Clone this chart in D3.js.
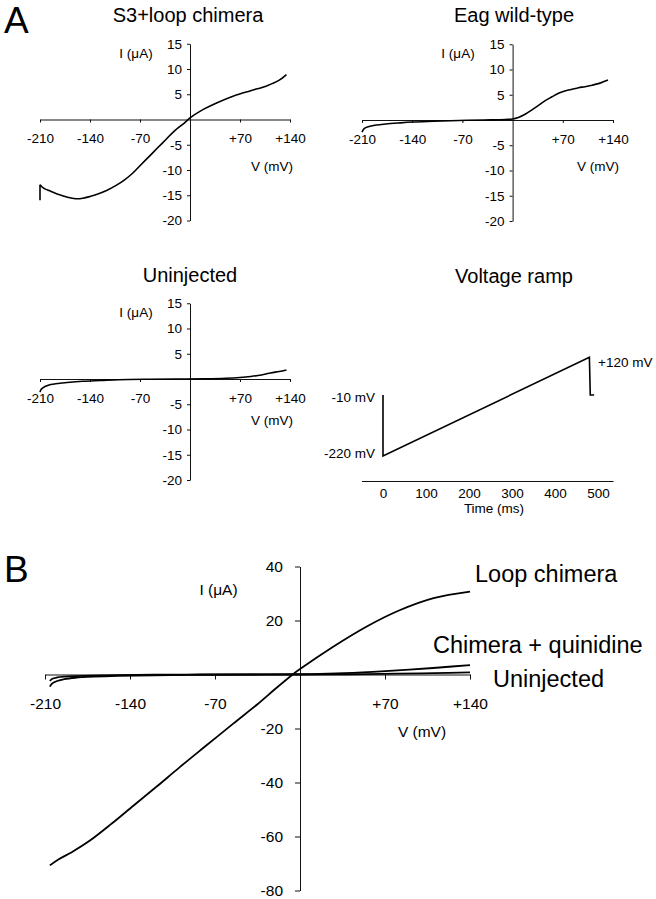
<!DOCTYPE html>
<html><head><meta charset="utf-8">
<script src="https://cdn.jsdelivr.net/npm/d3@7"></script>
<style>
body{margin:0;background:#fff}
svg{display:block;font-family:"Liberation Sans",Arial,Helvetica,sans-serif}
</style>
</head><body>
<svg id="chart" width="656" height="899"></svg>
<script>
// ---------------- data ----------------
const vTicks = [-210, -140, -70, 70, 140];
const iTicksA = [-20, -15, -10, -5, 5, 10, 15];
const iTicksB = [-80, -60, -40, -20, 20, 40];
const timeTicks = [0, 100, 200, 300, 400, 500];

// A: S3+loop chimera (first two points = transient at -210 mV)
const s3LoopV = [-210, -210, -205, -195, -185, -176, -168, -160, -150, -139, -128, -116, -104, -92, -80, -69, -57, -46, -34, -22, -8, 0, 15, 38, 62, 85, 108, 125, 135];
const s3LoopI = [-16, -12.9, -13.6, -14.2, -14.8, -15.2, -15.5, -15.7, -15.6, -15.2, -14.7, -14.0, -13.1, -12.0, -10.6, -9.0, -7.3, -5.7, -4.0, -2.3, -0.7, 0.3, 1.7, 3.3, 4.7, 5.7, 6.7, 7.8, 8.9];

// A: Eag wild-type
const eagV = [-210, -207, -200, -190, -177, -160, -140, -110, -75, -40, -10, 0, 8, 18, 27, 36, 45, 55, 64, 74, 83, 92, 101, 111, 122, 133];
const eagI = [-2.4, -1.7, -1.3, -1.0, -0.8, -0.6, -0.4, -0.25, -0.1, 0, 0.1, 0.2, 0.5, 1.2, 2.0, 2.9, 3.8, 4.6, 5.3, 5.8, 6.1, 6.4, 6.6, 6.9, 7.3, 7.9];

// A: Uninjected
const uninjAV = [-210, -208, -203, -195, -185, -172, -150, -125, -100, -60, -20, 20, 50, 70, 85, 100, 113, 125, 135];
const uninjAI = [-2.6, -2.0, -1.5, -1.1, -0.9, -0.7, -0.45, -0.3, -0.15, -0.05, 0, 0.05, 0.15, 0.3, 0.5, 0.8, 1.2, 1.5, 1.8];

// A: Voltage ramp
const rampT = [0, 0, 480, 482, 491];
const rampV = [-10, -220, 120, -10, -10];

// B
const loopBV = [-206, -199, -188, -173, -155, -137, -118, -99, -78, -55, -35, -20, -6, 0, 27, 55, 82, 110, 140];
const loopBI = [-70.7, -68.5, -65.8, -61.5, -55.2, -48.5, -41.5, -34.3, -26.6, -18.2, -11.0, -5.2, 0, 2.0, 10.2, 17.8, 23.8, 28.3, 30.7];
const quinBV = [-206, -204, -200, -194, -185, -170, -150, -120, -80, -40, 0, 30, 60, 90, 115, 140];
const quinBI = [-4.5, -3.3, -2.4, -1.7, -1.2, -0.8, -0.5, -0.3, -0.1, 0, 0.1, 0.4, 1.0, 1.8, 2.6, 3.5];
const uninjBV = [-206, -204, -200, -194, -185, -170, -150, -120, -80, -40, 0, 40, 80, 110, 140];
const uninjBI = [-2.4, -1.6, -1.1, -0.8, -0.6, -0.4, -0.25, -0.1, 0, 0, 0, 0.1, 0.3, 0.5, 0.8];

// ---------------- drawing ----------------
const svg = d3.select("#chart");
const FONT = '"Liberation Sans",Arial,Helvetica,sans-serif';
const zip = (a, b) => a.map((v, i) => [v, b[i]]);
const vFmt = d => d > 0 ? "+" + d : String(d);

function text(x, y, s, size, anchor) {
  svg.append("text").attr("x", x).attr("y", y).attr("font-size", size)
    .attr("text-anchor", anchor || "middle").attr("fill", "#000").text(s);
}

function styleAxis(g, fs) {
  g.attr("font-family", FONT).attr("font-size", fs);
  g.selectAll("path,line").attr("stroke", "#111").attr("stroke-width", 1);
  g.selectAll("text").attr("fill", "#000");
}

function ivPanel(o) {
  const x = d3.scaleLinear([-210, 140], [o.x0, o.x1]);
  const y = d3.scaleLinear([o.iMin, o.iMax], [o.yZero - o.iMin * o.ppu, o.yZero - o.iMax * o.ppu]);
  const gx = svg.append("g").attr("transform", `translate(0,${y(0)})`)
    .call(d3.axisBottom(x).tickValues(vTicks).tickFormat(vFmt)
      .tickSize(o.tick).tickSizeOuter(0).tickPadding(o.xPad));
  styleAxis(gx, o.fs);
  const gy = svg.append("g").attr("transform", `translate(${x(0)},0)`)
    .call(d3.axisLeft(y).tickValues(o.iTicks).tickFormat(d => String(d))
      .tickSize(o.tick).tickSizeOuter(0).tickPadding(o.yPad));
  styleAxis(gy, o.fs);
  const smooth = d3.line().x(d => x(d[0])).y(d => y(d[1])).curve(d3.curveCatmullRom.alpha(0.5));
  const straight = d3.line().x(d => x(d[0])).y(d => y(d[1]));
  o.series.forEach(s => {
    svg.append("path").attr("d", smooth(s)).attr("fill", "none")
      .attr("stroke", "#000").attr("stroke-width", o.lw).attr("stroke-linejoin", "round");
  });
  (o.straight || []).forEach(s => {
    svg.append("path").attr("d", straight(s)).attr("fill", "none")
      .attr("stroke", "#000").attr("stroke-width", o.lw);
  });
}

// Panel letters
text(4, 33, "A", 37, "start");
text(4, 582, "B", 37, "start");

// A top-left
const s3Pts = zip(s3LoopV, s3LoopI);
ivPanel({x0: 40, x1: 290, yZero: 119.5, ppu: 5.05, iMin: -20, iMax: 15, iTicks: iTicksA,
  tick: 3, xPad: 11, yPad: 5, fs: 13.5, lw: 1.6,
  series: [s3Pts.slice(1)], straight: [s3Pts.slice(0, 2)]});
text(188, 22, "S3+loop chimera", 20);
text(136, 58, "I (μA)", 13.5);
text(272, 171, "V (mV)", 13.5);

// A top-right
ivPanel({x0: 362, x1: 613, yZero: 120, ppu: 5.05, iMin: -20, iMax: 15, iTicks: iTicksA,
  tick: 3, xPad: 11, yPad: 5, fs: 13.5, lw: 1.6, series: [zip(eagV, eagI)]});
text(514, 22, "Eag wild-type", 20);
text(458, 58, "I (μA)", 13.5);
text(598, 171, "V (mV)", 13.5);

// A bottom-left
ivPanel({x0: 40, x1: 290, yZero: 379, ppu: 5.05, iMin: -20, iMax: 15, iTicks: iTicksA,
  tick: 3, xPad: 11, yPad: 5, fs: 13.5, lw: 1.6, series: [zip(uninjAV, uninjAI)]});
text(190, 282, "Uninjected", 20);
text(136, 317, "I (μA)", 13.5);
text(272, 425, "V (mV)", 13.5);

// A voltage ramp
(function () {
  const x = d3.scaleLinear([0, 500], [383, 598]);
  const y = d3.scaleLinear([-220, 120], [456, 357.3]);
  const xa = d3.scaleLinear([-50, 535], [x(-50), x(535)]);
  const gx = svg.append("g").attr("transform", "translate(0,481)")
    .call(d3.axisBottom(xa).tickValues(timeTicks).tickSize(0).tickSizeOuter(0).tickPadding(7));
  styleAxis(gx, 13.5);
  const line = d3.line().x(d => x(d[0])).y(d => y(d[1]));
  svg.append("path").attr("d", line(zip(rampT, rampV))).attr("fill", "none")
    .attr("stroke", "#000").attr("stroke-width", 1.6);
  text(514, 283, "Voltage ramp", 20);
  text(375, 401.5, "-10 mV", 13.5, "end");
  text(375, 457.5, "-220 mV", 13.5, "end");
  text(598, 366.5, "+120 mV", 13.5, "start");
  text(494, 513, "Time (ms)", 13.5);
})();

// B
ivPanel({x0: 45, x1: 470, yZero: 674.5, ppu: 2.7, iMin: -80, iMax: 40, iTicks: iTicksB,
  tick: 5, xPad: 18, yPad: 12, fs: 15.5, lw: 1.8,
  series: [zip(loopBV, loopBI), zip(quinBV, quinBI), zip(uninjBV, uninjBI)]});
text(218.5, 595, "I (μA)", 15.5);
text(422, 737, "V (mV)", 15.5);
text(475, 582, "Loop chimera", 23.5, "start");
text(433, 653, "Chimera + quinidine", 23.5, "start");
text(493, 687, "Uninjected", 23.5, "start");
</script>
</body></html>
